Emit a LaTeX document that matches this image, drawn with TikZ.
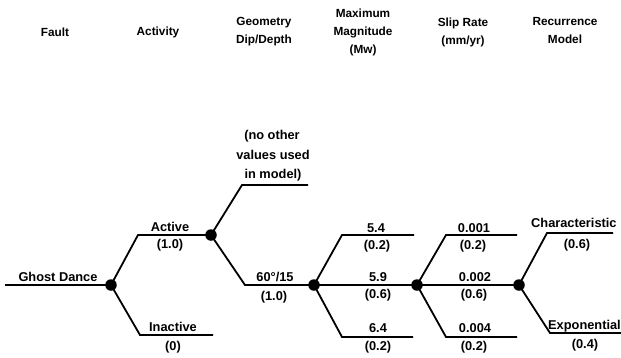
\documentclass[tikz,border=0pt]{standalone}
\usepackage{fontspec}
\setmainfont{Liberation Sans}
\begin{document}
\begin{tikzpicture}[x=1pt,y=-1pt,
  br/.style={line width=1.8pt},
  dot/.style={circle,fill=black,inner sep=0pt,minimum size=11.5pt},
  lab/.style={font=\bfseries\fontsize{12.8}{13}\selectfont,inner sep=0pt,anchor=center},
  hd/.style={font=\bfseries\fontsize{11.8}{18}\selectfont,inner sep=0pt,align=center,anchor=center}]
\useasboundingbox (0,0) rectangle (621,357);
% headers
\node[hd] (hfault) at (55,32) {Fault};
\node[hd] (hact) at (158,32) {Activity};
\node[hd] (hgeo) at (264,32) {Geometry\\Dip/Depth};
\node[hd] (hmag) at (363,32) {Maximum\\Magnitude\\(Mw)};
\node[hd] (hslip) at (463,32) {Slip Rate\\(mm/yr)};
\node[hd] (hrec) at (565,30) {Recurrence\\Model};
% junctions and corners
\coordinate (g0) at (5,285);
\node[dot] (n1) at (111,285) {};
\coordinate (a1) at (138,235);
\node[dot] (n2) at (211,235) {};
\coordinate (i1) at (140,335);
\coordinate (i2) at (213,335);
\coordinate (o1) at (242,185);
\coordinate (o2) at (308,185);
\coordinate (d1) at (245,285);
\node[dot] (n3) at (314,285) {};
\coordinate (m1c) at (342,235);
\coordinate (m1e) at (414,235);
\coordinate (m3c) at (342,337);
\coordinate (m3e) at (413,337);
\node[dot] (n4) at (417,285) {};
\coordinate (s1c) at (446,235);
\coordinate (s1e) at (517,235);
\coordinate (s3c) at (446,337);
\coordinate (s3e) at (517,337);
\node[dot] (n5) at (519,285) {};
\coordinate (c1) at (547,233);
\coordinate (c2) at (613,233);
\coordinate (e1) at (550,333);
\coordinate (e2) at (621,333);
% branches
\draw[br] (g0) -- (n1.center);
\draw[br] (n1.center) -- (a1) -- (n2.center);
\draw[br] (n1.center) -- (i1) -- (i2);
\draw[br] (n2.center) -- (o1) -- (o2);
\draw[br] (n2.center) -- (d1) -- (n3.center);
\draw[br] (n3.center) -- (m1c) -- (m1e);
\draw[br] (n3.center) -- (n4.center);
\draw[br] (n3.center) -- (m3c) -- (m3e);
\draw[br] (n4.center) -- (s1c) -- (s1e);
\draw[br] (n4.center) -- (n5.center);
\draw[br] (n4.center) -- (s3c) -- (s3e);
\draw[br] (n5.center) -- (c1) -- (c2);
\draw[br] (n5.center) -- (e1) -- (e2);
% labels
\node[lab] (lgd) at (58,277) {Ghost Dance};
\node[lab] (lact) at (170,227) {Active};
\node[lab] (lactp) at (170,245) {(1.0)};
\node[lab] (lina) at (173,327) {Inactive};
\node[lab] (linap) at (173,347) {(0)};
\node[lab] (lno1) at (272,136) {(no other};
\node[lab] (lno2) at (273,155) {values used};
\node[lab] (lno3) at (273,175) {in model)};
\node[lab] (ldip) at (275,277) {60°/15};
\node[lab] (ldipp) at (274,297) {(1.0)};
\node[lab] (lm1) at (376,228) {5.4};
\node[lab] (lm1p) at (377,246) {(0.2)};
\node[lab] (lm2) at (378,277) {5.9};
\node[lab] (lm2p) at (378,295) {(0.6)};
\node[lab] (lm3) at (378,328) {6.4};
\node[lab] (lm3p) at (378,347) {(0.2)};
\node[lab] (ls1) at (474,228) {0.001};
\node[lab] (ls1p) at (473,246) {(0.2)};
\node[lab] (ls2) at (475,277) {0.002};
\node[lab] (ls2p) at (474,295) {(0.6)};
\node[lab] (ls3) at (475,328) {0.004};
\node[lab] (ls3p) at (474,347) {(0.2)};
\node[lab,anchor=west] (lc) at (531,223) {Characteristic};
\node[lab] (lcp) at (577,245) {(0.6)};
\node[lab,anchor=west] (le) at (548,326) {Exponential};
\node[lab] (lep) at (585,345) {(0.4)};
\end{tikzpicture}
\end{document}
